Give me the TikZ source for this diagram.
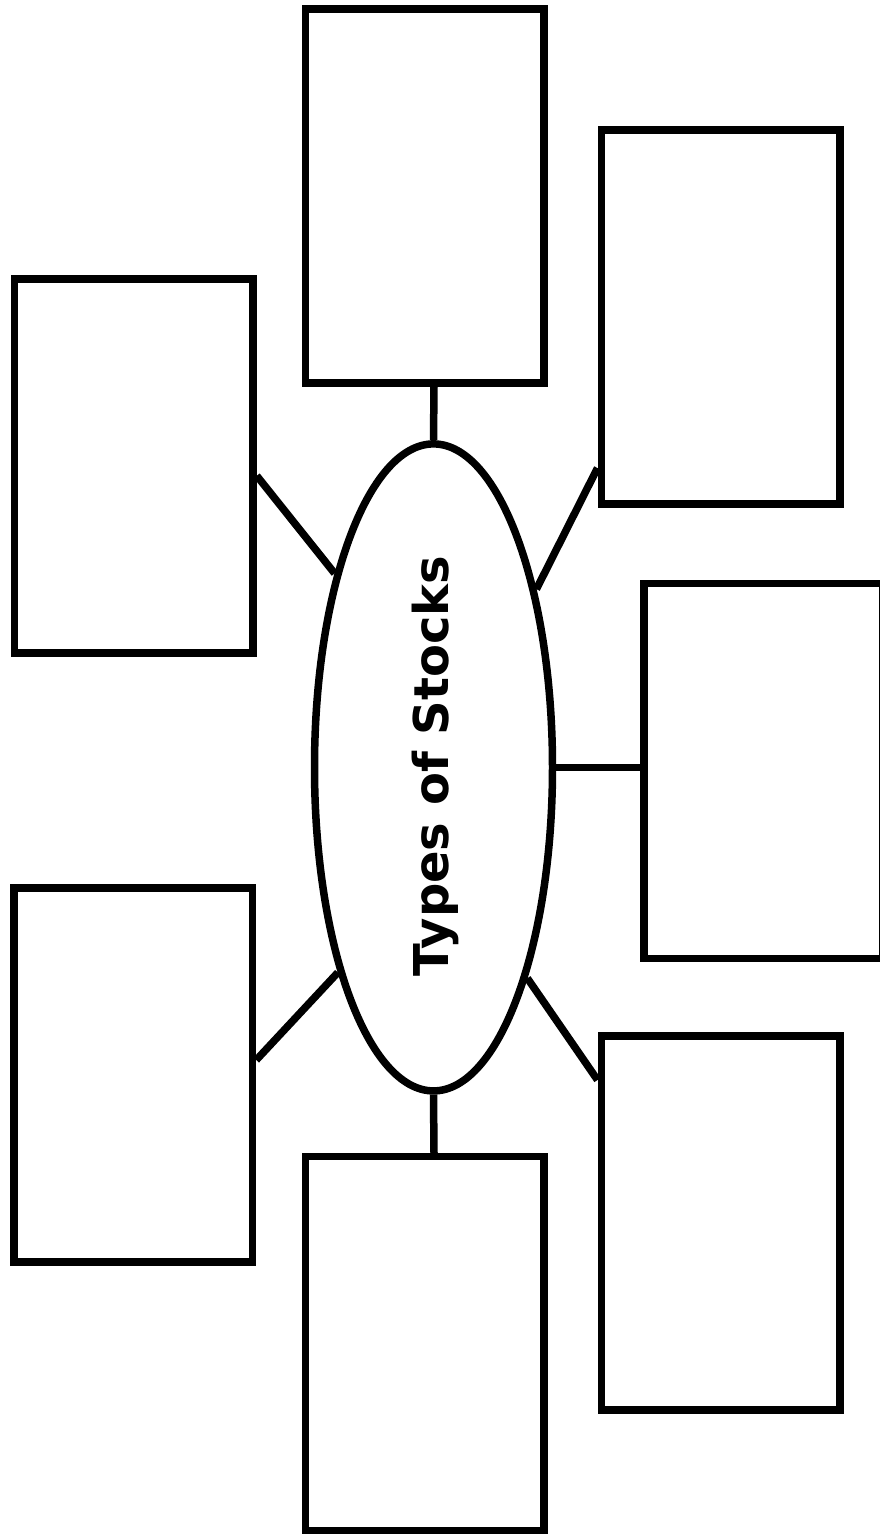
\documentclass[tikz,border=0pt]{standalone}
\usepackage{fontspec}
\setmainfont{DejaVu Sans}
\usepackage{tikz}
\tikzset{
        stockbox/.style={draw, line width=7.5pt, rectangle, minimum width=238.5pt, minimum height=374pt, inner sep=0pt},
        hub/.style={draw, line width=7.5pt, ellipse, minimum width=238pt, minimum height=647pt, inner sep=0pt},
        link/.style={line width=7.5pt}
}
\usetikzlibrary{shapes.geometric}

\begin{document}
\begin{tikzpicture}[x=1pt, y=-1pt]
        \useasboundingbox (0,0) rectangle (879,1535);
        \node (hub) [hub] at (433.5, 767.4) {};
        \node (title) [rotate=90, font=\bfseries\fontsize{48}{50}\selectfont] at (435, 766) {Types of Stocks};
        \node (b1) [stockbox] at (424.75, 196) {};
        \node (b2) [stockbox] at (720.5, 317) {};
        \node (b3) [stockbox, minimum height=375pt] at (763.25, 771) {};
        \node (b4) [stockbox] at (720.5, 1223) {};
        \node (b5) [stockbox] at (424.75, 1343.6) {};
        \node (b6) [stockbox] at (133.25, 1075) {};
        \node (b7) [stockbox] at (133.75, 465.75) {};
        \draw ([xshift=9.25pt]b1.south) edge [link] (hub.north);
        \draw ([yshift=-151pt]b2.west) edge [link] (hub.60.8);
        \draw ([yshift=3.6pt]b3.west) edge [link] (hub.east);
        \draw ([yshift=143pt]b4.west) edge [link] (hub.-66.8);
        \draw ([xshift=9.25pt]b5.north) edge [link] (hub.south);
        \draw ([yshift=15pt]b6.east) edge [link] (hub.245.5);
        \draw ([yshift=-10pt]b7.east) edge [link] (hub.117.1);
\end{tikzpicture}
\end{document}
